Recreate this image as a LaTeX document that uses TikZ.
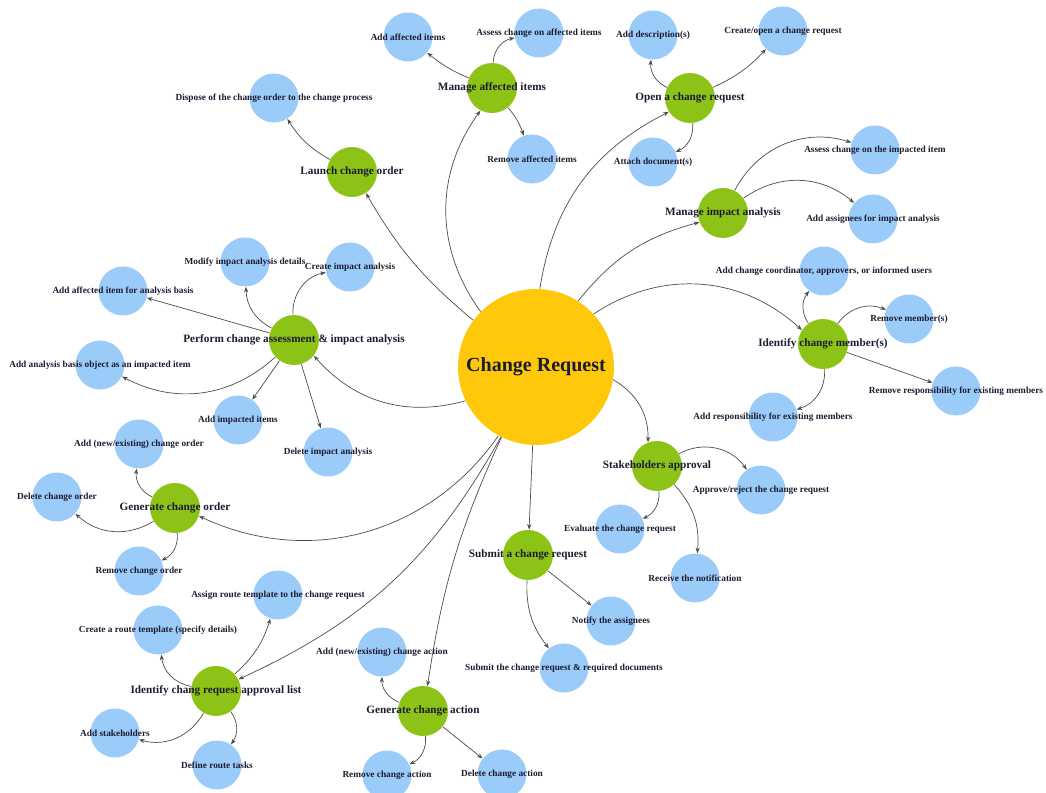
\documentclass[tikz,border=0pt]{standalone}
\usepackage{fontspec}
\setmainfont{Liberation Serif}
\usetikzlibrary{arrows.meta}

\definecolor{hubyellow}{HTML}{FFC80A}
\definecolor{taskgreen}{HTML}{8CC316}
\definecolor{leafblue}{HTML}{9ACBF9}
\definecolor{inktext}{HTML}{1C1C30}

\begin{document}
\begin{tikzpicture}[x=0.02cm, y=0.02cm,
    hub/.style={circle, fill=hubyellow, minimum size=3.12cm, inner sep=0pt,
        text=inktext, font=\fontsize{11.4}{13}\selectfont\bfseries},
    task/.style={circle, fill=taskgreen, minimum size=1cm, inner sep=0pt},
    leaf/.style={circle, fill=leafblue, minimum size=0.98cm, inner sep=0pt},
    tasktxt/.style={text=inktext, inner sep=0pt, font=\fontsize{6.4}{7}\selectfont\bfseries},
    leaftxt/.style={text=inktext, inner sep=0pt, font=\fontsize{5.3}{6}\selectfont\bfseries},
    link/.style={->, >={Stealth[length=3.2pt,width=2.4pt]}, draw=black!70, line width=0.4pt}]

    \useasboundingbox (0,0) rectangle (1046,-793);

    % Hub
    \node[hub] (cr) at (536,-367) {Change Request};

    % Main tasks
    \node[task] (launch)    at (352,-172) {};
    \node[task] (manage)    at (492,-88)  {};
    \node[task] (openreq)   at (690,-98)  {};
    \node[task] (impact)    at (723,-213) {};
    \node[task] (perform)   at (294,-340) {};
    \node[task] (members)   at (823,-344) {};
    \node[task] (approval)  at (657,-466) {};
    \node[task] (submit)    at (528,-555) {};
    \node[task] (action)    at (423,-711) {};
    \node[task] (routelist) at (216,-691) {};
    \node[task] (genorder)  at (175,-508) {};

    % Sub steps
    \node[leaf] (dispose)     at (274,-98)  {};
    \node[leaf] (addaff)      at (408,-37)  {};
    \node[leaf] (assessaff)   at (539,-33)  {};
    \node[leaf] (removeaff)   at (532,-159) {};
    \node[leaf] (adddesc)     at (653,-35)  {};
    \node[leaf] (attach)      at (653,-162) {};
    \node[leaf] (createreq)   at (783,-31)  {};
    \node[leaf] (assessimp)   at (875,-150) {};
    \node[leaf] (assignees)   at (873,-219) {};
    \node[leaf] (modify)      at (245,-262) {};
    \node[leaf] (createimp)   at (350,-267) {};
    \node[leaf] (addbasis)    at (123,-291) {};
    \node[leaf] (basisobj)    at (100,-365) {};
    \node[leaf] (addimp)      at (238,-420) {};
    \node[leaf] (delimp)      at (328,-452) {};
    \node[leaf] (addorder)    at (139,-444) {};
    \node[leaf] (delorder)    at (57,-497)  {};
    \node[leaf] (remorder)    at (139,-571) {};
    \node[leaf] (assignroute) at (278,-595) {};
    \node[leaf] (createroute) at (158,-630) {};
    \node[leaf] (addstake)    at (115,-733) {};
    \node[leaf] (routetasks)  at (217,-765) {};
    \node[leaf] (addaction)   at (382,-652) {};
    \node[leaf] (remaction)   at (387,-775) {};
    \node[leaf] (delaction)   at (502,-774) {};
    \node[leaf] (coord)       at (824,-271) {};
    \node[leaf] (remmember)   at (909,-319) {};
    \node[leaf] (remresp)     at (956,-391) {};
    \node[leaf] (addresp)     at (773,-417) {};
    \node[leaf] (approve)     at (761,-490) {};
    \node[leaf] (evaluate)    at (620,-529) {};
    \node[leaf] (notif)       at (695,-578) {};
    \node[leaf] (notify)      at (611,-621) {};
    \node[leaf] (submitdocs)  at (564,-668) {};

    % Hub to tasks
    \draw[link] (cr) to[bend left=10] (launch);
    \draw[link] (cr) to[bend left=36] (manage);
    \draw[link] (cr) to[bend left=27] (openreq);
    \draw[link] (cr) to[bend left=18] (impact);
    \draw[link] (cr) to[bend left=38] (members);
    \draw[link] (cr) to[bend left=30] (approval);
    \draw[link] (cr) -- (submit);
    \draw[link] (cr) to[bend right=8] (action);
    \draw[link] (cr) to[bend left=18] (routelist);
    \draw[link] (cr) to[bend left=40] (genorder);
    \draw[link] (cr) to[bend left=32] (perform);

    % Tasks to sub steps
    \draw[link] (launch) to[bend left=14] (dispose);
    \draw[link] (manage) to[bend left=8] (addaff);
    \draw[link] (manage) to[bend left=38] (assessaff);
    \draw[link] (manage) to[bend left=10] (removeaff);
    \draw[link] (openreq) to[bend left=35] (adddesc);
    \draw[link] (openreq) to[bend left=36] (attach);
    \draw[link] (openreq) to[bend right=11] (createreq);
    \draw[link] (impact) to[bend left=40] (assessimp);
    \draw[link] (impact) to[bend left=38] (assignees);
    \draw[link] (perform) to[bend left=30] (modify);
    \draw[link] (perform) to[bend left=40] (createimp);
    \draw[link] (perform) -- (addbasis);
    \draw[link] (perform) to[bend left=35] (basisobj);
    \draw[link] (perform) -- (addimp);
    \draw[link] (perform) -- (delimp);
    \draw[link] (genorder) to[bend left=35] (addorder);
    \draw[link] (genorder) to[bend left=37] (delorder);
    \draw[link] (genorder) to[bend left=35] (remorder);
    \draw[link] (routelist) to[bend right=15] (assignroute);
    \draw[link] (routelist) to[bend left=36] (createroute);
    \draw[link] (routelist) to[bend left=38] (addstake);
    \draw[link] (routelist) to[bend left=35] (routetasks);
    \draw[link] (action) to[bend left=35] (addaction);
    \draw[link] (action) to[bend left=35] (remaction);
    \draw[link] (action) -- (delaction);
    \draw[link] (members) to[bend left=36] (coord);
    \draw[link] (members) to[bend left=38] (remmember);
    \draw[link] (members) -- (remresp);
    \draw[link] (members) to[bend left=38] (addresp);
    \draw[link] (approval) to[bend left=42] (approve);
    \draw[link] (approval) to[bend left=35] (evaluate);
    \draw[link] (approval) to[bend left=24] (notif);
    \draw[link] (submit) -- (notify);
    \draw[link] (submit) to[bend right=20] (submitdocs);

    % Task labels
    \node[tasktxt] (launch-t)    at (launch)    {Launch change order};
    \node[tasktxt] (manage-t)    at (manage)    {Manage affected items};
    \node[tasktxt] (openreq-t)   at (openreq)   {Open a change request};
    \node[tasktxt] (impact-t)    at (impact)    {Manage impact analysis};
    \node[tasktxt] (perform-t)   at (perform)   {Perform change assessment \& impact analysis};
    \node[tasktxt] (members-t)   at (members)   {Identify change member(s)};
    \node[tasktxt] (approval-t)  at (approval)  {Stakeholders approval};
    \node[tasktxt] (submit-t)    at (submit)    {Submit a change request};
    \node[tasktxt] (action-t)    at (action)    {Generate change action};
    \node[tasktxt] (routelist-t) at (routelist) {Identify chang request approval list};
    \node[tasktxt] (genorder-t)  at (genorder)  {Generate change order};

    % Sub step labels
    \node[leaftxt] (dispose-t)     at (dispose)     {Dispose of the change order to the change process};
    \node[leaftxt] (addaff-t)      at (addaff)      {Add affected items};
    \node[leaftxt] (assessaff-t)   at (assessaff)   {Assess change on affected items};
    \node[leaftxt] (removeaff-t)   at (removeaff)   {Remove affected items};
    \node[leaftxt] (adddesc-t)     at (adddesc)     {Add description(s)};
    \node[leaftxt] (attach-t)      at (attach)      {Attach document(s)};
    \node[leaftxt] (createreq-t)   at (createreq)   {Create/open a change request};
    \node[leaftxt] (assessimp-t)   at (assessimp)   {Assess change on the impacted item};
    \node[leaftxt] (assignees-t)   at (assignees)   {Add assignees for impact analysis};
    \node[leaftxt] (modify-t)      at (modify)      {Modify impact analysis details};
    \node[leaftxt] (createimp-t)   at (createimp)   {Create impact analysis};
    \node[leaftxt] (addbasis-t)    at (addbasis)    {Add affected item for analysis basis};
    \node[leaftxt] (basisobj-t)    at (basisobj)    {Add analysis basis object as an impacted item};
    \node[leaftxt] (addimp-t)      at (addimp)      {Add impacted items};
    \node[leaftxt] (delimp-t)      at (delimp)      {Delete impact analysis};
    \node[leaftxt] (addorder-t)    at (addorder)    {Add (new/existing) change order};
    \node[leaftxt] (delorder-t)    at (delorder)    {Delete change order};
    \node[leaftxt] (remorder-t)    at (remorder)    {Remove change order};
    \node[leaftxt] (assignroute-t) at (assignroute) {Assign route template to the change request};
    \node[leaftxt] (createroute-t) at (createroute) {Create a route template (specify details)};
    \node[leaftxt] (addstake-t)    at (addstake)    {Add stakeholders};
    \node[leaftxt] (routetasks-t)  at (routetasks)  {Define route tasks};
    \node[leaftxt] (addaction-t)   at (addaction)   {Add (new/existing) change action};
    \node[leaftxt] (remaction-t)   at (remaction)   {Remove change action};
    \node[leaftxt] (delaction-t)   at (delaction)   {Delete change action};
    \node[leaftxt] (coord-t)       at (coord)       {Add change coordinator, approvers, or informed users};
    \node[leaftxt] (remmember-t)   at (remmember)   {Remove member(s)};
    \node[leaftxt] (remresp-t)     at (remresp)     {Remove responsibility for existing members};
    \node[leaftxt] (addresp-t)     at (addresp)     {Add responsibility for existing members};
    \node[leaftxt] (approve-t)     at (approve)     {Approve/reject the change request};
    \node[leaftxt] (evaluate-t)    at (evaluate)    {Evaluate the change request};
    \node[leaftxt] (notif-t)       at (notif)       {Receive the notification};
    \node[leaftxt] (notify-t)      at (notify)      {Notify the assignees};
    \node[leaftxt] (submitdocs-t)  at (submitdocs)  {Submit the change request \& required documents};
\end{tikzpicture}
\end{document}
